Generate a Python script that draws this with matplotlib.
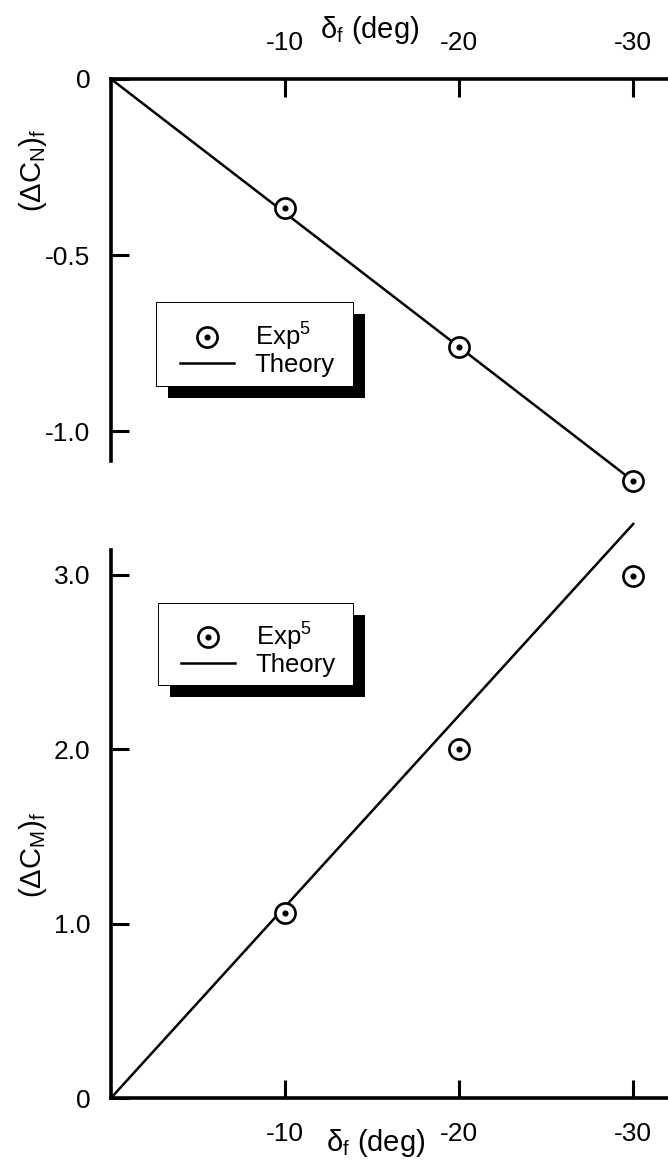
import matplotlib
matplotlib.use("Agg")
import matplotlib.pyplot as plt
from matplotlib.patches import Rectangle
from matplotlib.lines import Line2D

plt.rcParams['font.family'] = ['Liberation Sans', 'DejaVu Sans']
plt.rcParams['mathtext.default'] = 'regular'

# flap deflection and increments
delta_exp = [-10, -20, -30]
cn_exp = [-0.366, -0.761, -1.142]
cm_exp = [1.06, 2.00, 2.99]

delta_th = [0, -30]
cn_th = [0, -1.142]
cm_th = [0, 3.29]

xticks = [-10, -20, -30]
xticklabels = ['-10', '-20', '-30']
cn_ticks = [0, -0.5, -1.0]
cn_ticklabels = ['0', '-0.5', '-1.0']
cm_ticks = [0, 1.0, 2.0, 3.0]
cm_ticklabels = ['0', '1.0', '2.0', '3.0']

W, H = 668, 1162
fig = plt.figure(figsize=(W / 100, H / 100), dpi=100)

def px_rect(x0, y0, x1, y1):
    # pixel box (top-left origin) -> figure fraction [left, bottom, width, height]
    return [x0 / W, 1 - y1 / H, (x1 - x0) / W, (y1 - y0) / H]

ax1 = fig.add_axes(px_rect(111, 79, 668, 500))
ax2 = fig.add_axes(px_rect(111, 540, 668, 1098))

fs = 19
fs_lab = 21
spine_w = 2.6

def style(ax):
    for s in ax.spines.values():
        s.set_linewidth(spine_w)
    ax.tick_params(direction='in', length=13, width=2.2, labelsize=fs)
    ax.tick_params(axis='y', pad=15)
    ax.set_xlim(0, -32.0)
    ax.set_xticks(xticks)
    ax.set_xticklabels(xticklabels)

def draw_exp(ax, x, y):
    ax.plot(x, y, 'o', ms=14.5, mfc='white', mec='black', mew=1.9,
            clip_on=False, zorder=4)
    ax.plot(x, y, 'o', ms=3.4, color='black', clip_on=False, zorder=5)

# normal force panel
style(ax1)
ax1.spines['bottom'].set_visible(False)
ax1.spines['right'].set_visible(False)
ax1.spines['left'].set_bounds(-1.085, 0)
ax1.xaxis.tick_top()
ax1.tick_params(axis='x', pad=17)
ax1.set_ylim(-1.196, 0)
ax1.set_yticks(cn_ticks)
ax1.set_yticklabels(cn_ticklabels)
ax1.plot(delta_th, cn_th, color='black', lw=1.8, clip_on=False, zorder=3)
draw_exp(ax1, delta_exp, cn_exp)
ax1.set_ylabel(r'$(\Delta C_N)_f$', fontsize=fs_lab)
ax1.yaxis.set_label_coords(33 / W, 1 - 170 / H, transform=fig.transFigure)
ax1.yaxis.label.set_va('center')
ax1.set_xlabel(r'$\delta_f$ (deg)', fontsize=fs_lab)
ax1.xaxis.set_label_position('top')
ax1.xaxis.set_label_coords(370 / W, 1 - 30 / H, transform=fig.transFigure)
ax1.xaxis.label.set_va('center')

# pitching moment panel
style(ax2)
ax2.spines['top'].set_visible(False)
ax2.spines['right'].set_visible(False)
ax2.spines['left'].set_bounds(0, 3.14)
ax2.tick_params(axis='x', pad=17)
ax2.set_ylim(0, 3.198)
ax2.set_yticks(cm_ticks)
ax2.set_yticklabels(cm_ticklabels)
ax2.plot(delta_th, cm_th, color='black', lw=1.8, clip_on=False, zorder=3)
draw_exp(ax2, delta_exp, cm_exp)
ax2.set_ylabel(r'$(\Delta C_M)_f$', fontsize=fs_lab)
ax2.yaxis.set_label_coords(33 / W, 1 - 855 / H, transform=fig.transFigure)
ax2.yaxis.label.set_va('center')
ax2.set_xlabel(r'$\delta_f$ (deg)', fontsize=fs_lab)
ax2.xaxis.set_label_coords(376 / W, 1 - 1143 / H, transform=fig.transFigure)
ax2.xaxis.label.set_va('center')

# legend boxes with a drop shadow
def legend_box(x0, y0, x1, y1):
    off = 12
    l, b, w, h = px_rect(x0 + off, y0 + off, x1 + off, y1 + off)
    fig.patches.append(Rectangle((l, b), w, h, transform=fig.transFigure,
                                 facecolor='black', edgecolor='none', zorder=1))
    l, b, w, h = px_rect(x0, y0, x1, y1)
    fig.patches.append(Rectangle((l, b), w, h, transform=fig.transFigure,
                                 facecolor='white', edgecolor='black', lw=0.7, zorder=2))
    exp_ring = Line2D([], [], ls='none', marker='o', ms=14.5, mfc='white', mec='black', mew=1.9)
    exp_dot = Line2D([], [], ls='none', marker='o', ms=3.4, color='black')
    theory = Line2D([], [], color='black', lw=1.8)
    leg = fig.legend([(exp_ring, exp_dot), theory], [r'Exp$^5$', 'Theory'],
                     loc='center', bbox_to_anchor=((x0 + x1 + 6) / 2 / W, 1 - (y0 + y1 + 10) / 2 / H),
                     frameon=False, fontsize=18.5, handlelength=2.1, handletextpad=0.8,
                     labelspacing=0.0, borderaxespad=0)
    leg.set_zorder(3)
    return leg

legend_box(156, 302, 353, 386)
legend_box(158, 603, 353, 685)

fig.savefig('out.png', dpi=100)
